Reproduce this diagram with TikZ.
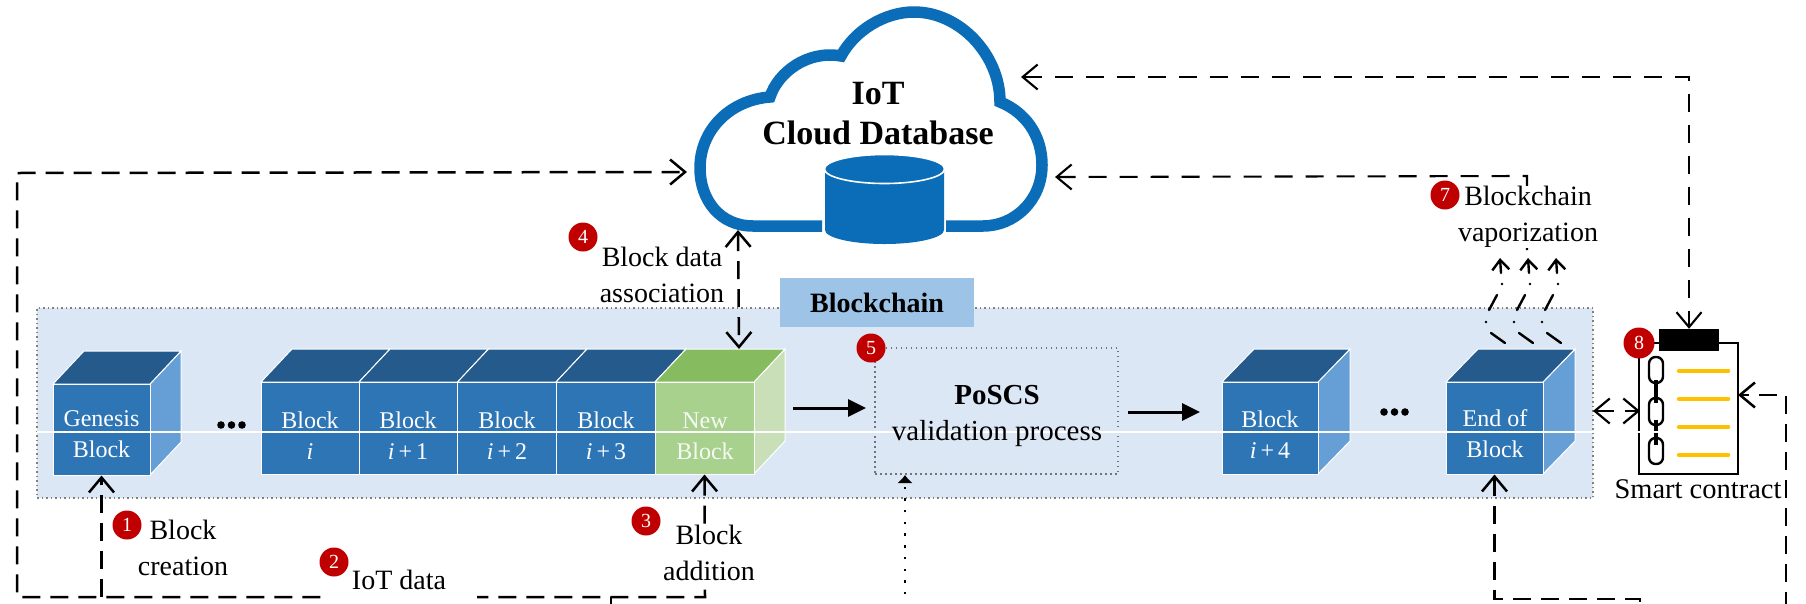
\documentclass[tikz,border=0pt]{standalone}
\usepackage{fontspec}
\setmainfont{Liberation Serif}
\usetikzlibrary{arrows.meta,calc}
\definecolor{regionbg}{HTML}{DCE7F5}
\definecolor{labelbg}{HTML}{9DC3E6}
\definecolor{bluefront}{HTML}{2E75B6}
\definecolor{bluetop}{HTML}{255A8C}
\definecolor{blueside}{HTML}{659FD6}
\definecolor{greenfront}{HTML}{A9D18E}
\definecolor{greentop}{HTML}{86BC5F}
\definecolor{greenside}{HTML}{C8DFB8}
\definecolor{cloudblue}{HTML}{0B6DB7}
\definecolor{badgered}{HTML}{C00000}
\definecolor{lineyellow}{HTML}{FFC000}
\newcommand{\fs}[2]{\fontsize{#1}{#2}\selectfont}
\newcommand{\mkcube}[7]{%
  \fill[#6side,draw=white,line width=1] (#3,#4) -- (#3+#7,#4-33) -- (#3+#7,#5-33) -- (#3,#5) -- cycle;
  \fill[#6top,draw=white,line width=1] (#2,#4) -- (#2+#7,#4-33) -- (#3+#7,#4-33) -- (#3,#4) -- cycle;
  \node[draw=white,line width=1,fill=#6front,inner sep=0,minimum width=#3-#2,minimum height=#5-#4] (#1) at ({(#2+#3)/2},{(#4+#5)/2}) {};
}
\tikzset{
  txt/.style={inner sep=0,align=center,font=\fs{28}{36}},
  btxt/.style={inner sep=0,align=center,text=white,font=\fs{24}{31}},
  badge/.style={circle,fill=badgered,text=white,inner sep=0,minimum size=29,font=\fs{20}{22}},
  dashln/.style={line width=2.5,dash pattern=on 18 off 10},
  thindash/.style={line width=2.1,dash pattern=on 18 off 13},
  heavy/.style={line width=3,-{Triangle[length=18,width=17]}},
  dotln/.style={line width=2.4,dash pattern=on 2.4 off 9.3,-{Latex[length=8,width=16]}},
  vap/.style={line width=2.4,line cap=round},
  regionbox/.style={draw=black!50,line width=1.4,dash pattern=on 1.5 off 3,fill=regionbg},
}
\begin{document}
\begin{tikzpicture}[x=1pt,y=-1pt]
\useasboundingbox (0,0) rectangle (1806,603);
\clip (0,0) rectangle (1806,603);
\fill[white] (0,0) rectangle (1806,603);
% blockchain region
\node[regionbox,inner sep=0,minimum width=1556,minimum height=190] (rg) at (815,403) {};
\node[fill=labelbg,inner sep=0,minimum width=194,minimum height=49,font=\fs{28}{30}\bfseries] (bl) at (877,302.5) {Blockchain};
% cloud
\draw[cloudblue,line width=11.5] (822,226) -- (753,226) .. controls (720,226) and (700,200) .. (700,168) .. controls (700,130) and (730,100) .. (770,97)
  .. controls (778,72) and (808,50) .. (841,56)
  .. controls (855,30) and (885,12) .. (914,12)
  .. controls (960,12) and (1000,55) .. (1000,102)
  .. controls (1025,112) and (1042,135) .. (1042,165)
  .. controls (1042,200) and (1015,226) .. (983,226) -- (946,226);
\fill[cloudblue] (825,169) -- (825,230) arc[start angle=180,end angle=0,x radius=59.5,y radius=14] -- (944,169) -- cycle;
\fill[cloudblue,draw=white,line width=1.6] (884.5,169) ellipse[x radius=60,y radius=14.5];
\node[inner sep=0,align=center,font=\fs{34}{40}\bfseries] (ct) at (878,114) {IoT\\Cloud Database};
\coordinate (cloudL) at (687,172);
\coordinate (cloudB) at (738,230);
\coordinate (cloudT) at (1021,77);
\coordinate (cloudR) at (1055,177);
% blocks
\mkcube{gen}{53}{150}{384}{475}{blue}{31}
\mkcube{b0}{261}{359}{382}{474}{blue}{31}
\mkcube{b1}{359}{457.5}{382}{474}{blue}{31}
\mkcube{b2}{457.5}{556}{382}{474}{blue}{31}
\mkcube{b3}{556}{655}{382}{474}{blue}{31}
\mkcube{nb}{655}{754}{382}{474}{green}{31}
\mkcube{b4}{1222}{1318}{382}{474}{blue}{32}
\mkcube{eb}{1446}{1543}{382}{474}{blue}{32}
% ellipses
\foreach \n/\x/\y in {a/221/425,b/231.5/425,c/242/425,d/1384/412,e/1394.5/412,f/1405/412}
  \fill (\x,\y) circle[radius=3.8];
% PoSCS
\node[draw=black!55,line width=1.4,dash pattern=on 1.5 off 3.5,inner sep=0,minimum width=243,minimum height=126] (ps) at (996.5,411) {};
% smart contract
\node[draw=black,line width=2.6,inner sep=0,minimum width=99,minimum height=131] (sc) at (1688.5,408.5) {};
\node[fill=black,inner sep=0,minimum width=60,minimum height=22] (clp) at (1689,340) {};
\foreach \y in {371,399,427,455}
  \draw[lineyellow,line width=4.5,line cap=round] (1679,\y) -- (1728,\y);
\foreach \a/\b in {357/383,398/425,438/464}
  \draw[line width=2.4,rounded corners=6.5] (1649,\a) rectangle (1663,\b);
\draw[line width=4] (1656,380) -- (1656,403) (1656,420) -- (1656,445);
\node[inner sep=0,font=\fs{28.5}{30}] (st) at (1698,489) {Smart contract};
% dashed connectors
\coordinate (c1) at (705,597);
\coordinate (c2) at (17,597);
\coordinate (c3) at (17,173);
\draw[dashln,{Straight Barb[length=15,width=25]}-{Straight Barb[length=15,width=25]}] (nb.south) -- (c1) -- (c2) -- (c3) -- (cloudL);
\coordinate (c4) at (101.5,597);
\draw[dashln,-{Straight Barb[length=15,width=25]}] (c4) -- (gen.south);
\coordinate (c5) at (611,597);
\coordinate (c6) at (611,610);
\draw[dashln] (c5) -- (c6);
\node[txt,fill=white,minimum width=156,font=\fs{28}{39}] (iot) at (399,599.5) {IoT data\\collection};
\coordinate (c7) at (1494.5,599);
\coordinate (c8) at (1640,599);
\coordinate (c9) at (1640,610);
\draw[dashln,{Straight Barb[length=15,width=25]}-] (eb.south) -- (c7) -- (c8) -- (c9);
\coordinate (c10) at (1786,610);
\coordinate (c11) at (1786,395);
\coordinate (c12) at (1738,395);
\draw[dashln,-{Straight Barb[length=15,width=25]}] (c10) -- (c11) -- (c12);
\coordinate (c13) at (1593,411);
\coordinate (c14) at (1640,411);
\draw[line width=2.2,dash pattern=on 18 off 11,{Straight Barb[length=15,width=25]}-{Straight Barb[length=15,width=25]}] (c13) -- (c14);
\coordinate (c15) at (1689,77);
\draw[thindash,{Straight Barb[length=15,width=25]}-{Straight Barb[length=15,width=25]}] (cloudT) -- (c15) -- (clp.north);
\coordinate (c16) at (1527,176);
\coordinate (c17) at (1527,250);
\draw[thindash,{Straight Barb[length=15,width=25]}-] (cloudR) -- (c16) -- (c17);
\coordinate (c18) at (739,349);
\draw[dashln,{Straight Barb[length=15,width=25]}-{Straight Barb[length=15,width=25]}] (cloudB) -- (c18);
% dotted
\coordinate (c19) at (905,606);
\coordinate (c20) at (905,475);
\draw[dotln] (c19) -- (c20);
% solid
\coordinate (c21) at (793,408);
\coordinate (c22) at (866,408);
\coordinate (c23) at (1128,412);
\coordinate (c24) at (1200,412);
\draw[heavy] (c21) -- (c22);
\draw[heavy] (c23) -- (c24);
% vaporization
\foreach \d in {0,28,56}{
  \draw[vap,-{Straight Barb[length=10,width=17]}] (1501+\d,273) -- (1500+\d,258);
  \fill (1502+\d,284) circle[radius=1.3];
  \draw[vap] (1497+\d,295) -- (1489+\d,310);
  \fill (1486+\d,322) circle[radius=1.3];
  \draw[vap] (1491+\d,333) -- (1505+\d,343);
}
% white seam
\draw[white,line width=1.2] (37,432) -- (1660,432);
% block and box texts
\node[btxt] (t0) at (101.5,434.5) {Genesis\\Block};
\node[btxt] (t1) at (310,436) {Block\\\textit{i}};
\node[btxt] (t2) at (408,436) {Block\\\textit{i}\,+\,1};
\node[btxt] (t3) at (507,436) {Block\\\textit{i}\,+\,2};
\node[btxt] (t4) at (606,436) {Block\\\textit{i}\,+\,3};
\node[btxt,text=white!90!greenfront] (t5) at (705,436) {New\\Block};
\node[btxt] (t6) at (1270,434.5) {Block\\\textit{i}\,+\,4};
\node[btxt] (t7) at (1495,433.5) {End of\\Block};
\node[inner sep=0,align=center,font=\fs{29}{36}] (pt) at (997,416) {\textbf{PoSCS}\\validation process};
% labels
\node[txt] (l1) at (183,548) {Block\\creation};
\node[txt,fill=white] (l3) at (709,553) {Block\\addition};
\node[txt] (l4) at (662,275) {Block data\\association};
\node[txt,fill=white] (l7) at (1528,217) {Blockchain\\vaporization};
% badges
\node[badge] (n1) at (127,525) {1};
\node[badge] (n2) at (334,562) {2};
\node[badge] (n3) at (646,521) {3};
\node[badge] (n4) at (583,237) {4};
\node[badge] (n5) at (871,348) {5};
\node[badge] (n7) at (1445,195) {7};
\node[badge,minimum size=31] (n8) at (1639,343) {8};
\end{tikzpicture}
\end{document}
